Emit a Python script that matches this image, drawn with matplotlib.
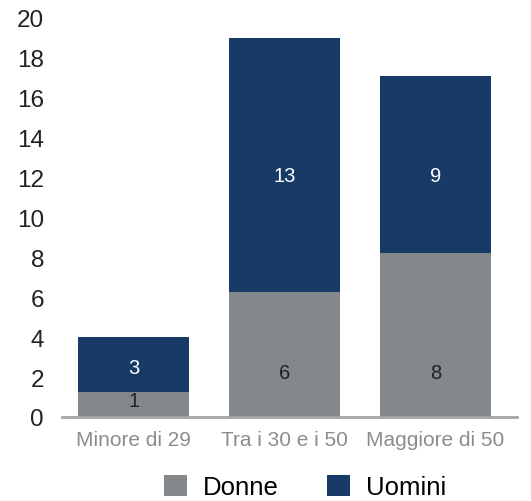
import numpy as np
import matplotlib
matplotlib.use("Agg")
from matplotlib import pyplot as plt

plt.rcParams['font.family'] = ['Liberation Sans', 'DejaVu Sans']

categories = ["Minore di 29", "Tra i 30 e i 50", "Maggiore di 50"]
donne = [1.25, 6.25, 8.2]
uomini = [2.75, 12.7, 8.85]
yticks = [0, 2, 4, 6, 8, 10, 12, 14, 16, 18, 20]

# where the value labels sit (as in the original chart)
donne_label_y = [0.85, 2.25, 2.25]
uomini_label_y = [2.5, 12.1, 12.1]

c_donne = "#84888B"
c_uomini = "#173A66"

fig = plt.figure(figsize=(5.31, 5.02), dpi=100)
ax = fig.add_axes([62/531, 1 - 418/502, (517 - 62)/531, (418 - 18.5)/502])

x = np.arange(len(categories))
w = 0.735
ax.bar(x, donne, w, color=c_donne, label="Donne")
ax.bar(x, uomini, w, bottom=donne, color=c_uomini, label="Uomini")

for i in range(len(categories)):
    ax.text(x[i], donne_label_y[i], f"{donne[i]:.0f}", ha="center", va="center",
            fontsize=14.5, color="#222222")
    ax.text(x[i], uomini_label_y[i], f"{uomini[i]:.0f}", ha="center", va="center",
            fontsize=14.5, color="white")

ax.set_xlim(-0.475, 2.54)
ax.set_ylim(0, 20)
ax.set_yticks(yticks)
ax.set_xticks(x)
ax.set_xticklabels(categories, fontsize=15, color="#8A8D90")
ax.tick_params(axis="y", length=0, pad=13, labelsize=17.5, labelcolor="#222222")
ax.tick_params(axis="x", length=0, pad=9)

for s in ["top", "right", "left"]:
    ax.spines[s].set_visible(False)
ax.spines["bottom"].set_color("#A3A6A8")
ax.spines["bottom"].set_linewidth(2)

fig.legend(loc="center", bbox_to_anchor=(305/531, 1 - 488/502), ncol=2, frameon=False,
           fontsize=18.5, handlelength=0.9, handleheight=0.9, handletextpad=0.6,
           columnspacing=1.9, borderaxespad=0, borderpad=0)

fig.savefig("out.png", dpi=100)
